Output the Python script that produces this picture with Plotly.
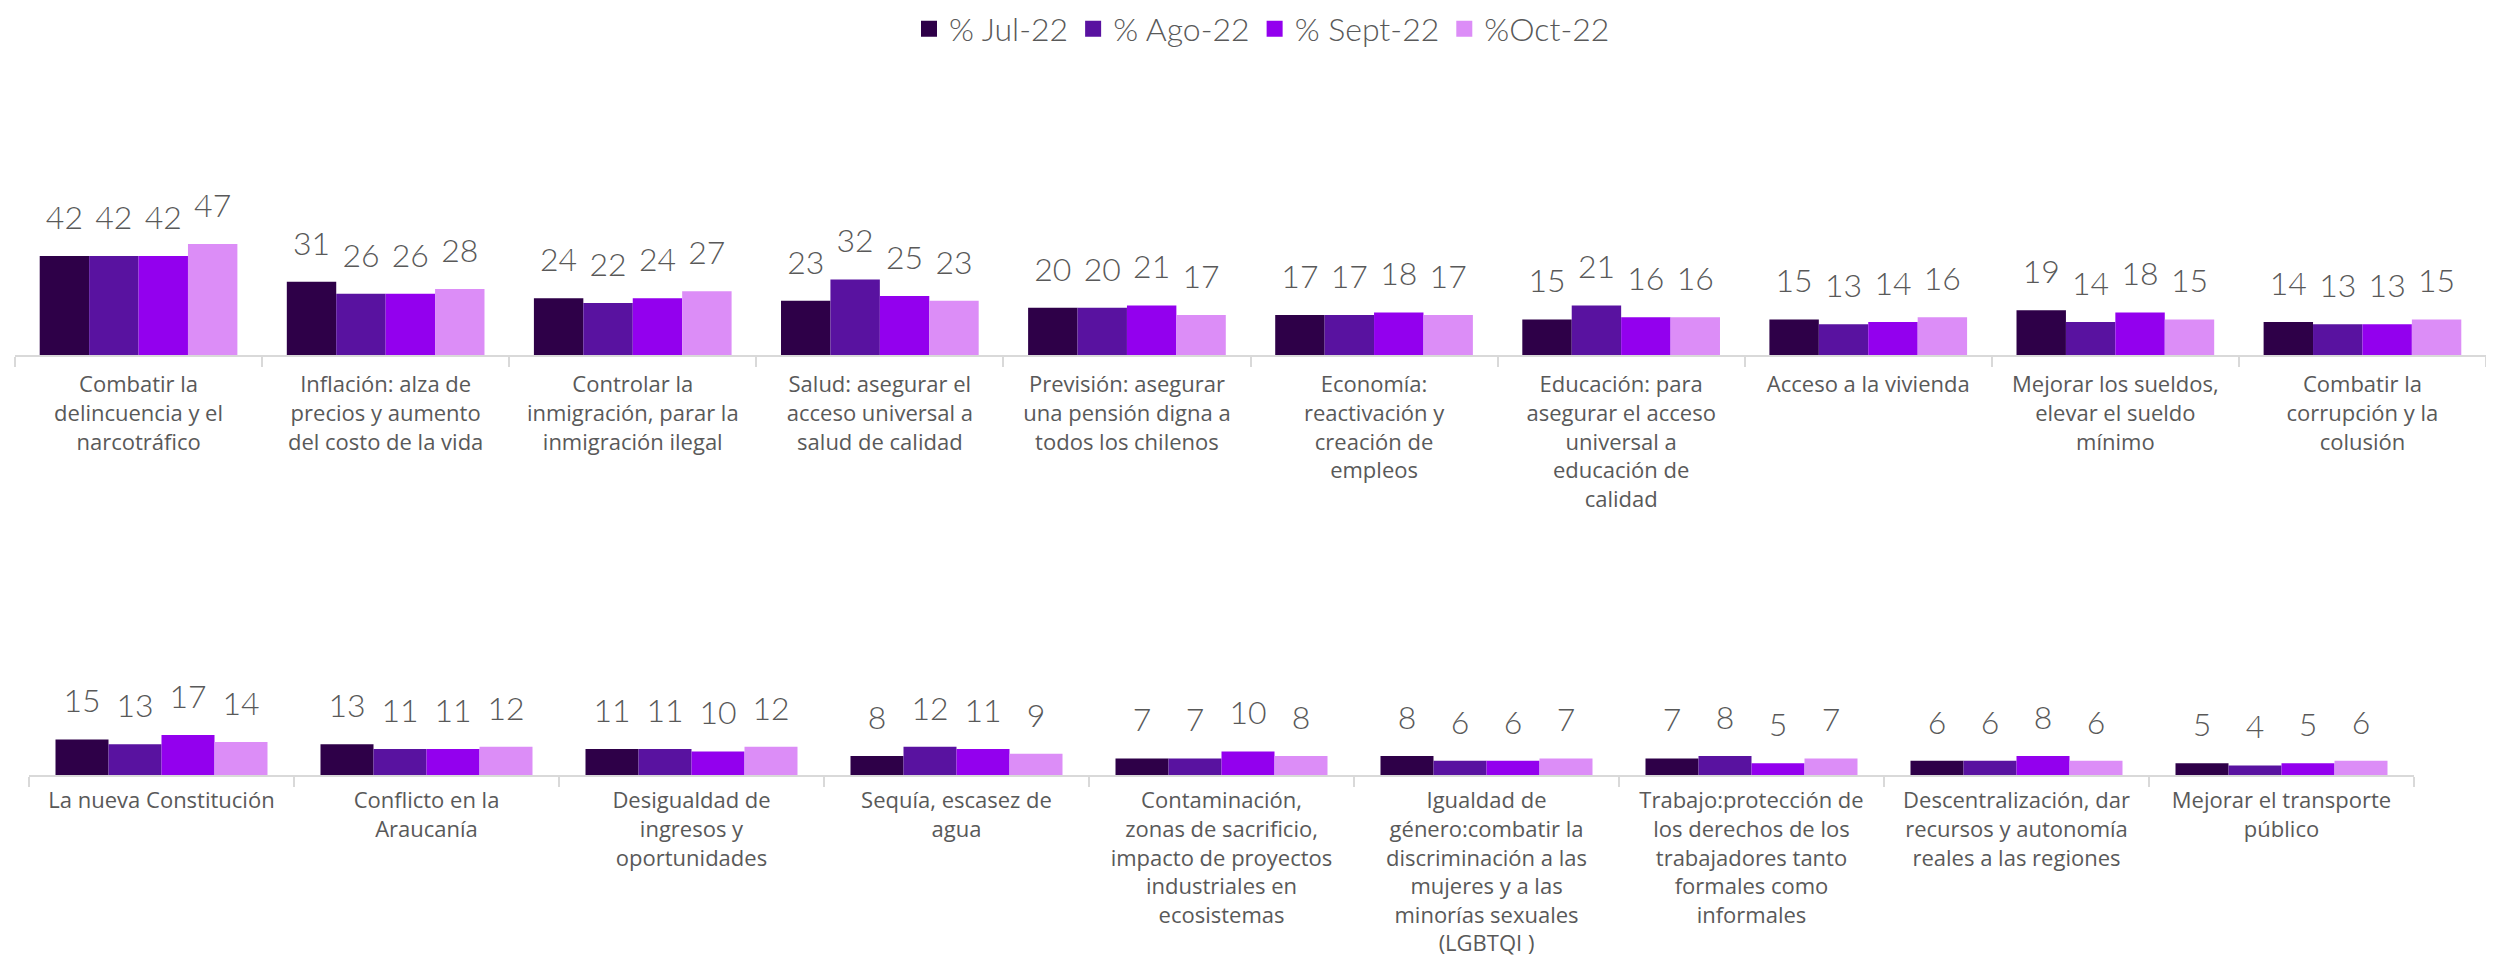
import plotly.graph_objects as go

series_names = ["% Jul-22", "% Ago-22", "% Sept-22", "%Oct-22"]
colors = ["#2E0048", "#5912A0", "#9300EE", "#DC8DF7"]

cats_top = [
    "Combatir la<br>delincuencia y el<br>narcotráfico",
    "Inflación: alza de<br>precios y aumento<br>del costo de la vida",
    "Controlar la<br>inmigración, parar la<br>inmigración ilegal",
    "Salud: asegurar el<br>acceso universal a<br>salud de calidad",
    "Previsión: asegurar<br>una pensión digna a<br>todos los chilenos",
    "Economía:<br>reactivación y<br>creación de<br>empleos",
    "Educación: para<br>asegurar el acceso<br>universal a<br>educación de<br>calidad",
    "Acceso a la vivienda",
    "Mejorar los sueldos,<br>elevar el sueldo<br>mínimo",
    "Combatir la<br>corrupción y la<br>colusión",
]
jul_top = [42, 31, 24, 23, 20, 17, 15, 15, 19, 14]
ago_top = [42, 26, 22, 32, 20, 17, 21, 13, 14, 13]
sep_top = [42, 26, 24, 25, 21, 18, 16, 14, 18, 13]
oct_top = [47, 28, 27, 23, 17, 17, 16, 16, 15, 15]

cats_bot = [
    "La nueva Constitución",
    "Conflicto en la<br>Araucanía",
    "Desigualdad de<br>ingresos y<br>oportunidades",
    "Sequía, escasez de<br>agua",
    "Contaminación,<br>zonas de sacrificio,<br>impacto de proyectos<br>industriales en<br>ecosistemas",
    "Igualdad de<br>género:combatir la<br>discriminación a las<br>mujeres y a las<br>minorías sexuales<br>(LGBTQI )",
    "Trabajo:protección de<br>los derechos de los<br>trabajadores tanto<br>formales como<br>informales",
    "Descentralización, dar<br>recursos y autonomía<br>reales a las regiones",
    "Mejorar el transporte<br>público",
]
jul_bot = [15, 13, 11, 8, 7, 8, 7, 6, 5]
ago_bot = [13, 11, 11, 12, 7, 6, 8, 6, 4]
sep_bot = [17, 11, 10, 11, 10, 6, 5, 8, 5]
oct_bot = [14, 12, 12, 9, 8, 7, 7, 6, 6]

top_vals = [jul_top, ago_top, sep_top, oct_top]
bot_vals = [jul_bot, ago_bot, sep_bot, oct_bot]

LABEL_FONT = dict(family="Lato Light, Lato", size=32, color="#595959", weight=300)
TICK_FONT = dict(family="Open Sans", size=22, color="#595959", weight=500)

fig = go.Figure()

for axes, cats, vals_list in [(("x", "y"), cats_top, top_vals), (("x2", "y2"), cats_bot, bot_vals)]:
    for i, (name, col, vals) in enumerate(zip(series_names, colors, vals_list)):
        fig.add_trace(go.Bar(
            x=cats, y=vals, name=name, marker_color=col, marker_line_width=0,
            offsetgroup=str(i), xaxis=axes[0], yaxis=axes[1], showlegend=False,
            hoverinfo="skip",
        ))
    for i, (name, col, vals) in enumerate(zip(series_names, colors, vals_list)):
        fig.add_trace(go.Scatter(
            x=cats, y=vals, mode="markers+text", text=[str(v) for v in vals],
            textposition="top center", textfont=LABEL_FONT,
            marker=dict(size=29, color="rgba(0,0,0,0)"),
            offsetgroup=str(i), orientation="v",
            xaxis=axes[0], yaxis=axes[1], showlegend=False, cliponaxis=False,
            hoverinfo="skip",
        ))

# legend entries
for name, col in zip(series_names, colors):
    fig.add_trace(go.Scatter(
        x=[None], y=[None], mode="markers", name=name,
        marker=dict(symbol="square", size=16, color=col),
        xaxis="x3", yaxis="y3", showlegend=True,
    ))

axis_common = dict(
    type="category", showline=True, linecolor="#D9D9D9", linewidth=2,
    ticks="outside", tickson="boundaries", ticklen=10, tickcolor="#D9D9D9",
    tickwidth=2, tickfont=TICK_FONT, showgrid=False, zeroline=False,
    automargin=False,
)

# page body has an 8px margin; figure coordinates are page coordinates minus 8
OFF = 8
W, H = 2494 - 2 * OFF, 966 - 2 * OFF
top_axis_px, bot_axis_px = 355 - OFF, 775 - OFF
px_per_unit = 2.36
ymax = 60
span = ymax * px_per_unit / H

fig.update_layout(
    width=W, height=H,
    margin=dict(l=0, r=0, t=0, b=0, autoexpand=False),
    paper_bgcolor="white", plot_bgcolor="white",
    barmode="group", bargap=0.2, bargroupgap=0,
    scattermode="group", scattergap=0.2,
    xaxis=dict(domain=[(15 - OFF) / W, 1.0], anchor="y", ticklabelstandoff=9, **axis_common),
    yaxis=dict(domain=[1 - top_axis_px / H, 1 - top_axis_px / H + span], range=[0, ymax], visible=False, anchor="x"),
    xaxis2=dict(domain=[(29 - OFF) / W, (2414 - OFF) / W], anchor="y2", ticklabelstandoff=5, **axis_common),
    yaxis2=dict(domain=[1 - bot_axis_px / H, 1 - bot_axis_px / H + span], range=[0, ymax], visible=False, anchor="x2"),
    xaxis3=dict(domain=[0, 0.01], anchor="y3", visible=False),
    yaxis3=dict(domain=[0.99, 1], anchor="x3", visible=False),
    legend=dict(
        orientation="h", xref="container", yref="container",
        x=(1262 - OFF) / W, xanchor="center",
        y=1 - (29 - OFF) / H, yanchor="middle",
        font=dict(family="Lato Light, Lato", size=32, color="#595959", weight=300),
        itemwidth=30, bgcolor="rgba(0,0,0,0)",
    ),
    showlegend=True,
)

fig.write_html("out.html")
